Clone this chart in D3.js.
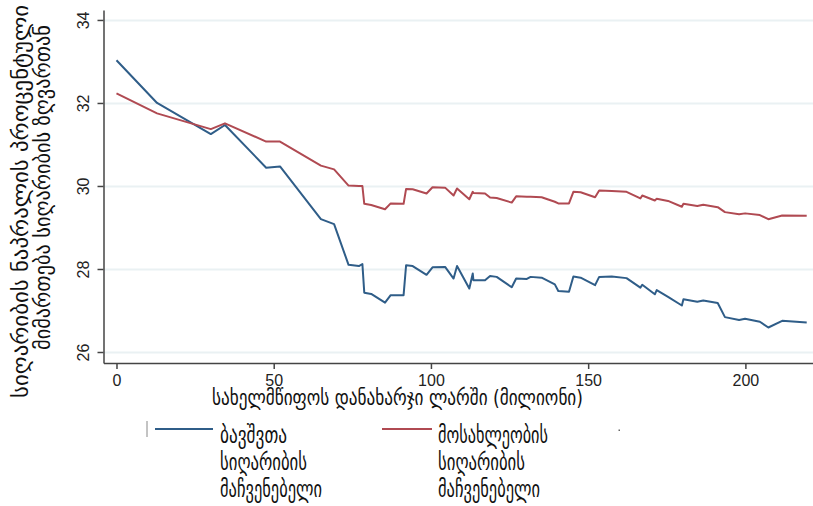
<!DOCTYPE html>
<html><head><meta charset="utf-8">
<script src="https://cdn.jsdelivr.net/npm/d3@7"></script>
<style>
html,body{margin:0;padding:0;background:#fff;}
svg{display:block;font-family:"Liberation Sans","DejaVu Sans",sans-serif;}
</style></head>
<body>
<svg id="chart" width="813" height="506"></svg>
<script>
// ---- data ----
const spending = [0, 12.9, 30, 34.5, 47.6, 52, 65, 69.2, 73.8, 77.1, 78.2, 78.8, 81, 85.4, 87.2, 91.3, 92.1, 94.2, 98.6, 100.5, 104.5, 107.2, 108.3, 112.2, 113.3, 113.5, 117.2, 118.8, 120.9, 125.7, 127.1, 130.5, 131.7, 135.2, 139.4, 140.5, 143.9, 145.3, 147.6, 152.2, 153.5, 157.5, 162.2, 166.6, 167.2, 171.2, 171.8, 175.4, 179.8, 180.3, 184.7, 186.6, 191.2, 193.5, 198, 199.9, 204.6, 207.3, 211.7, 219.5];
const childPoverty = [33.03, 32.0, 31.25, 31.47, 30.44, 30.47, 29.2, 29.08, 28.1, 28.07, 28.12, 27.43, 27.4, 27.19, 27.37, 27.37, 28.09, 28.07, 27.86, 28.04, 28.05, 27.77, 28.07, 27.53, 27.89, 27.73, 27.73, 27.83, 27.81, 27.56, 27.77, 27.76, 27.81, 27.79, 27.63, 27.47, 27.45, 27.82, 27.79, 27.61, 27.81, 27.82, 27.78, 27.55, 27.62, 27.39, 27.49, 27.33, 27.12, 27.27, 27.21, 27.24, 27.18, 26.84, 26.77, 26.8, 26.73, 26.59, 26.75, 26.71];
const popPoverty = [32.23, 31.75, 31.37, 31.51, 31.07, 31.07, 30.49, 30.4, 30.01, 30.0, 30.0, 29.57, 29.54, 29.44, 29.58, 29.57, 29.93, 29.92, 29.82, 29.97, 29.96, 29.77, 29.94, 29.68, 29.86, 29.83, 29.82, 29.72, 29.71, 29.6, 29.75, 29.74, 29.74, 29.73, 29.62, 29.58, 29.58, 29.86, 29.85, 29.73, 29.89, 29.88, 29.86, 29.7, 29.77, 29.65, 29.69, 29.64, 29.5, 29.57, 29.52, 29.55, 29.49, 29.37, 29.32, 29.34, 29.3, 29.2, 29.29, 29.28];
const xTicks = [0, 50, 100, 150, 200];
const yTicks = [26, 28, 30, 32, 34];
const xTitle = "სახელმწიფოს დანახარჯი ლარში (მილიონი)";
const yTitle = ["სიღარიბის ნაპრალის პროცენტული", "მიმართება სიღარიბის ზღვართან"];
const legendLabels = [["ბავშვთა", "სიღარიბის", "მაჩვენებელი"], ["მოსახლეობის", "სიღარიბის", "მაჩვენებელი"]];
const colors = ["#2f5d88", "#b04a52"];

(function () {
// ---- layout ----
const svg = d3.select("#chart");
const mLeft = 103.5, mRight = 813, mTop = 10, mBottom = 363;
const x = d3.scaleLinear().domain([-4.13, 221.5]).range([mLeft, mRight]);
const y = d3.scaleLinear().domain([25.735, 34.24]).range([mBottom, mTop]);

// gridlines
const grid = svg.append("g").attr("transform", `translate(${mLeft},0)`)
  .call(d3.axisLeft(y).tickValues(yTicks).tickSize(-(mRight - mLeft)).tickFormat(""));
grid.select(".domain").remove();
grid.selectAll("line").attr("stroke", "#eaf1f3").attr("stroke-width", 2);

// y axis
const ya = svg.append("g").attr("transform", `translate(${mLeft},0)`)
  .call(d3.axisLeft(y).tickValues(yTicks).tickSize(6).tickSizeOuter(0).tickFormat(d3.format("d")));
ya.select(".domain").attr("stroke", "#444").attr("stroke-width", 1.5);
ya.selectAll(".tick line").attr("stroke", "#444").attr("stroke-width", 1.5);
ya.selectAll(".tick text")
  .attr("transform", "rotate(-90)")
  .attr("x", 0).attr("y", -15).attr("dy", 0)
  .attr("text-anchor", "middle")
  .attr("font-size", 16).attr("fill", "#222")
  .style("font-family", "'Liberation Sans', Arial, sans-serif");

// x axis
const xa = svg.append("g").attr("transform", `translate(0,${mBottom})`)
  .call(d3.axisBottom(x).tickValues(xTicks).tickSize(6).tickSizeOuter(0).tickFormat(d3.format("d")));
xa.select(".domain").attr("stroke", "#444").attr("stroke-width", 1.5);
xa.selectAll(".tick line").attr("stroke", "#444").attr("stroke-width", 1.5);
xa.selectAll(".tick text")
  .attr("y", 23).attr("dy", 0)
  .attr("font-size", 16).attr("fill", "#222")
  .style("font-family", "'Liberation Sans', Arial, sans-serif");

// lines
const series = [childPoverty, popPoverty];
const line = d3.line().x((d, i) => x(spending[i])).y(d => y(d));
series.forEach((s, k) => {
  svg.append("path").datum(s)
    .attr("fill", "none").attr("stroke", colors[k])
    .attr("stroke-width", 2).attr("stroke-linejoin", "round")
    .attr("d", line);
});

const geo = "'DejaVu Sans', sans-serif";
function geoText(sel, len) {
  return sel.attr("fill", "#111").style("font-family", geo)
    .attr("textLength", len).attr("lengthAdjust", "spacingAndGlyphs");
}

// x title
geoText(svg.append("text").attr("x", 212).attr("y", 405)
  .attr("font-size", 22).text(xTitle), 371);

// y title (rotated)
const yPos = [[28, 398, 393], [50, 350, 325]];
yTitle.forEach((t, i) => {
  const [bx, by, len] = yPos[i];
  geoText(svg.append("text")
    .attr("transform", `translate(${bx},${by}) rotate(-90)`)
    .attr("font-size", 22).text(t), len);
});

// legend
const legX = [[155, 213, 220], [382, 432, 438]];
const legW = [[67, 87, 102], [110, 87, 102]];
legendLabels.forEach((lines, k) => {
  const [x1, x2, tx] = legX[k];
  svg.append("line").attr("x1", x1).attr("x2", x2).attr("y1", 429).attr("y2", 429)
    .attr("stroke", colors[k]).attr("stroke-width", 2);
  lines.forEach((t, j) => {
    geoText(svg.append("text").attr("x", tx).attr("y", 443 + j * 27)
      .attr("font-size", 23).text(t), legW[k][j]);
  });
});
// small legend marks
svg.append("line").attr("x1", 147).attr("x2", 147).attr("y1", 421).attr("y2", 437)
  .attr("stroke", "#888").attr("stroke-width", 1);
svg.append("rect").attr("x", 618.5).attr("y", 429.5).attr("width", 1.5).attr("height", 1.5).attr("fill", "#666");
})();
</script>
</body></html>
